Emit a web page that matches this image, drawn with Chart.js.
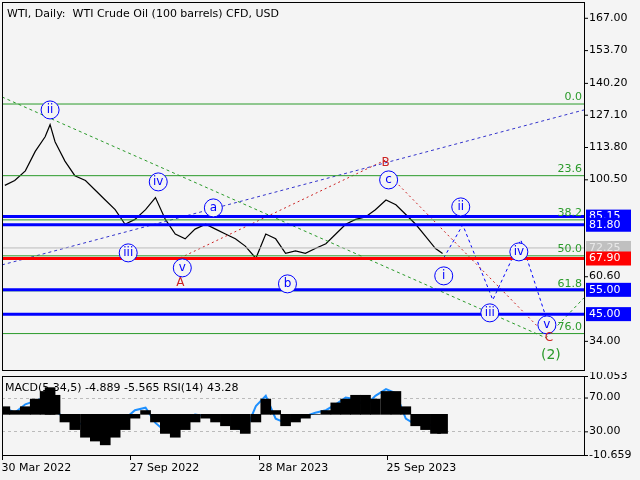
<!DOCTYPE html>
<html>
<head>
<meta charset="utf-8">
<script src="https://cdn.jsdelivr.net/npm/chart.js@4"></script>
<style>
  body { margin: 0; background: #f4f4f4; }
  #wrap { position: relative; width: 640px; height: 480px; }
  canvas { position: absolute; left: 0; }
</style>
</head>
<body>
<div id="wrap">
  <canvas id="main" style="top:0" width="640" height="372"></canvas>
  <canvas id="sub" style="top:372px" width="640" height="108"></canvas>
</div>
<script>
// WTI daily, days counted from 30 Mar 2022
const PX_PER_DAY = 0.706;
const priceDays = [4, 18, 33, 47, 61, 68, 75, 89, 103, 118, 132, 146, 160, 174, 188, 203, 217, 231, 245, 259, 273, 288, 302, 316, 330, 344, 359, 373, 387, 401, 415, 429, 443, 458, 472, 486, 500, 514, 528, 543, 557, 571, 585, 599, 613, 623];
const priceValues = [98, 100, 104, 112, 118, 123, 116, 108, 102, 100, 96, 92, 88, 82, 84, 88, 93, 84, 78, 76, 80, 82, 80, 78, 76, 73, 68, 78, 76, 70, 71, 70, 72, 74, 78, 82, 84, 85, 88, 92, 90, 86, 82, 77, 72, 70];
const macdValues = [2, 1, 2, 4, 6, 7, 5, -2, -4, -6, -7, -8, -6, -4, -1, 1, -2, -5, -6, -4, -2, -1, -2, -3, -4, -5, -2, 4, 1, -3, -2, -1, 0, 1, 3, 4, 5, 5, 4, 6, 6, 2, -3, -4, -5, -5];
const rsiValues = [58, 52, 62, 66, 70, 74, 55, 45, 40, 38, 35, 30, 33, 45, 55, 58, 40, 30, 35, 45, 50, 48, 45, 40, 35, 30, 60, 72, 45, 40, 45, 48, 52, 55, 62, 70, 68, 60, 72, 80, 75, 45, 38, 40, 35, 43];
const priceTicks = [167.00, 153.70, 140.20, 127.10, 113.80, 100.50, 60.60, 34.00];
const levelLines = [
  { v: 85.15, color: '#0000ff', w: 3, box: '#0000ff', text: '#fff' },
  { v: 81.80, color: '#0000ff', w: 3, box: '#0000ff', text: '#fff' },
  { v: 72.25, color: '#bbbbbb', w: 1, box: '#c0c0c0', text: '#e8e8e8' },
  { v: 67.90, color: '#ff0000', w: 3, box: '#ff0000', text: '#fff' },
  { v: 55.00, color: '#0000ff', w: 3, box: '#0000ff', text: '#fff' },
  { v: 45.00, color: '#0000ff', w: 3, box: '#0000ff', text: '#fff' }
];
const fibNames = ['0.0', '23.6', '38.2', '50.0', '61.8', '76.0'];
const fibValues = [131.5, 102.0, 83.8, 69.0, 54.6, 37.0];
const subTickValues = ['10.053', '70.00', '30.00', '-10.659'];
const dateTicks = [[0, '30 Mar 2022'], [181, '27 Sep 2022'], [363, '28 Mar 2023'], [544, '25 Sep 2023']];

const X_MAX = 823;
const px = x => (x - 2) / PX_PER_DAY;
const pv = y => 34 + (341 - y) / 2.43;
const seg = (pts) => pts.map(p => ({ x: px(p[0]), y: pv(p[1]) }));

// wave labels: [x, y, text, kind]
const waveLabels = [
  [50, 110, 'ii', 'c'], [158, 182, 'iv', 'c'], [128, 253, 'iii', 'c'], [182, 268, 'v', 'c'],
  [213, 208, 'a', 'c'], [287, 284, 'b', 'c'], [388, 180, 'c', 'c'], [443, 276, 'i', 'c'],
  [460, 207, 'ii', 'c'], [489, 313, 'iii', 'c'], [518, 252, 'iv', 'c'], [546, 325, 'v', 'c'],
  [180, 283, 'A', 'r'], [385, 163, 'B', 'r'], [548, 338, 'C', 'r'], [550, 356, '(2)', 'g']
];

function lineDs(data, color, width, dash) {
  return { type: 'line', data: data, borderColor: color, borderWidth: width, borderDash: dash || [], pointRadius: 0, fill: false, tension: 0 };
}

const mainDatasets = [];
levelLines.forEach(l => mainDatasets.push(lineDs([{ x: 0, y: l.v }, { x: X_MAX, y: l.v }], l.color, l.w)));
fibValues.forEach(v => mainDatasets.push(lineDs([{ x: 0, y: v }, { x: X_MAX, y: v }], '#2a9a2a', 1)));
mainDatasets.push(lineDs(seg([[2, 97], [545, 338], [583, 298]]), '#2a9a2a', 1, [3, 3]));
mainDatasets.push(lineDs(seg([[2, 265], [583, 110]]), '#3333cc', 1, [3, 3]));
mainDatasets.push(lineDs(seg([[180, 258], [385, 160]]), '#cc2222', 1, [2, 3]));
mainDatasets.push(lineDs(seg([[398, 185], [545, 335]]), '#cc2222', 1, [2, 3]));
mainDatasets.push(lineDs(seg([[443, 258], [462, 225], [492, 300], [520, 240], [546, 320]]), '#0000ff', 1, [3, 3]));
mainDatasets.push(lineDs(priceDays.map((d, i) => ({ x: d, y: priceValues[i] })), '#000000', 1.2));

const FONT = '11px "DejaVu Sans"';

const mainDecor = {
  id: 'mainDecor',
  afterDatasetsDraw(chart) {
    const c = chart.ctx, a = chart.chartArea, ys = chart.scales.y, xs = chart.scales.x;
    c.save();
    c.strokeStyle = '#000'; c.lineWidth = 1;
    c.strokeRect(a.left + 0.5, a.top + 0.5, a.right - a.left, a.bottom - a.top);
    c.font = FONT; c.textBaseline = 'middle'; c.textAlign = 'left';
    priceTicks.forEach(t => {
      const y = ys.getPixelForValue(t);
      c.fillStyle = '#000';
      c.beginPath(); c.moveTo(a.right, y + 0.5); c.lineTo(a.right + 4, y + 0.5); c.stroke();
      c.fillText(t.toFixed(2), a.right + 5, y);
    });
    levelLines.forEach(l => {
      const y = ys.getPixelForValue(l.v);
      c.fillStyle = l.box; c.fillRect(a.right + 2, y - 7, 45, 14);
      c.fillStyle = l.text; c.fillText(l.v.toFixed(2), a.right + 5, y);
    });
    c.textAlign = 'right'; c.textBaseline = 'bottom'; c.fillStyle = '#2a9a2a';
    fibValues.forEach((v, i) => c.fillText(fibNames[i], a.right - 2, ys.getPixelForValue(v) - 1));
    c.textBaseline = 'middle'; c.textAlign = 'center';
    waveLabels.forEach(w => {
      const x = xs.getPixelForValue(px(w[0])), y = ys.getPixelForValue(pv(w[1]));
      if (w[3] === 'c') {
        c.fillStyle = '#f4f4f4'; c.strokeStyle = '#0000ff';
        c.beginPath(); c.arc(x, y, 9, 0, Math.PI * 2); c.fill(); c.stroke();
        c.fillStyle = '#0000ff'; c.font = '12px "DejaVu Sans"'; c.fillText(w[2], x, y);
      } else {
        c.fillStyle = w[3] === 'r' ? '#cc2222' : '#2a9a2a';
        c.font = w[3] === 'r' ? '12px "DejaVu Sans"' : '14px "DejaVu Sans"';
        c.fillText(w[2], x, y);
      }
    });
    c.font = FONT; c.textAlign = 'left'; c.fillStyle = '#000';
    c.fillText('WTI, Daily:  WTI Crude Oil (100 barrels) CFD, USD', a.left + 5, a.top + 12);
    c.restore();
  }
};

new Chart(document.getElementById('main'), {
  type: 'line',
  data: { datasets: mainDatasets },
  options: {
    responsive: false, animation: false, events: [],
    layout: { padding: { left: 2, top: 2, right: 56, bottom: 2 } },
    plugins: { legend: { display: false }, tooltip: { enabled: false } },
    scales: {
      x: { type: 'linear', min: 0, max: X_MAX, display: false },
      y: { min: 22, max: 173.5, display: false }
    }
  },
  plugins: [mainDecor]
});

const subDecor = {
  id: 'subDecor',
  beforeDatasetsDraw(chart) {
    const c = chart.ctx, a = chart.chartArea, yr = chart.scales.yR;
    c.save();
    c.strokeStyle = '#bbb'; c.setLineDash([3, 3]); c.lineWidth = 1;
    [70, 30].forEach(v => {
      const y = Math.round(yr.getPixelForValue(v)) + 0.5;
      c.beginPath(); c.moveTo(a.left, y); c.lineTo(a.right, y); c.stroke();
    });
    c.restore();
  },
  afterDatasetsDraw(chart) {
    const c = chart.ctx, a = chart.chartArea, xs = chart.scales.x, ym = chart.scales.yM, yr = chart.scales.yR;
    c.save();
    c.strokeStyle = '#000'; c.lineWidth = 1;
    c.strokeRect(a.left + 0.5, a.top + 0.5, a.right - a.left, a.bottom - a.top);
    c.font = FONT; c.fillStyle = '#000'; c.textBaseline = 'middle';
    const ys = [ym.getPixelForValue(10.053), yr.getPixelForValue(70), yr.getPixelForValue(30), ym.getPixelForValue(-10.659)];
    subTickValues.forEach((t, i) => {
      c.beginPath(); c.moveTo(a.right, ys[i] + 0.5); c.lineTo(a.right + 4, ys[i] + 0.5); c.stroke();
      c.fillText(t, a.right + 5, ys[i]);
    });
    c.fillText('MACD(5,34,5) -4.889 -5.565 RSI(14) 43.28', a.left + 3, a.top + 12);
    c.textBaseline = 'top';
    dateTicks.forEach(d => {
      const x = Math.round(xs.getPixelForValue(d[0])) + 0.5;
      c.beginPath(); c.moveTo(x, a.bottom); c.lineTo(x, a.bottom + 5); c.stroke();
      c.fillText(d[1], x - 1, a.bottom + 8);
    });
    c.restore();
  }
};

new Chart(document.getElementById('sub'), {
  data: {
    datasets: [
      { type: 'bar', data: priceDays.map((d, i) => ({ x: d, y: macdValues[i] })), backgroundColor: '#000', yAxisID: 'yM',
        barThickness: 10 },
      { type: 'line', data: priceDays.map((d, i) => ({ x: d, y: rsiValues[i] })), borderColor: '#1e90ff', borderWidth: 2,
        pointRadius: 0, tension: 0, yAxisID: 'yR' }
    ]
  },
  options: {
    responsive: false, animation: false, events: [],
    layout: { padding: { left: 2, top: 4, right: 56, bottom: 25 } },
    plugins: { legend: { display: false }, tooltip: { enabled: false } },
    scales: {
      x: { type: 'linear', min: 0, max: X_MAX, offset: false, display: false },
      yM: { min: -10.659, max: 10.053, display: false },
      yR: { min: 2, max: 95.5, display: false }
    }
  },
  plugins: [subDecor]
});
</script>
</body>
</html>
